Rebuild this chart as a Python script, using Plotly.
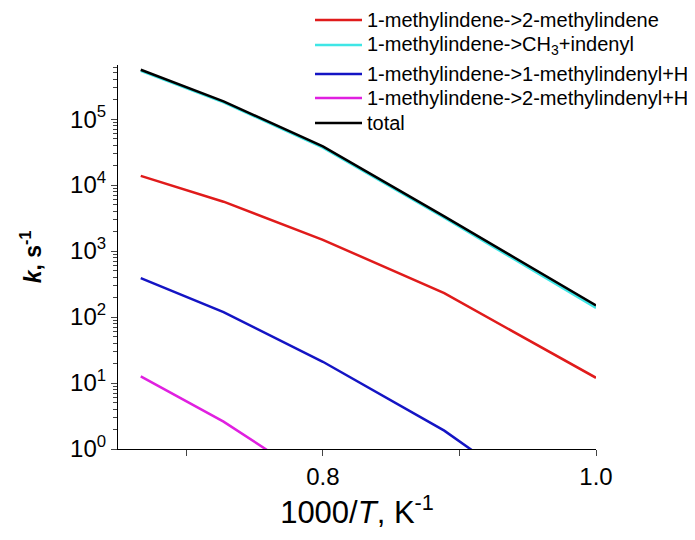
import plotly.graph_objects as go

# 1000/T values (T = 1500, 1375, 1250, 1125, 1000 K)
inv_T = [1000/1500, 1000/1375, 1000/1250, 1000/1125, 1000/1000]

series_names = [
    "1-methylindene->2-methylindene",
    "1-methylindene->CH<sub>3</sub>+indenyl",
    "1-methylindene->1-methylindenyl+H",
    "1-methylindene->2-methylindenyl+H",
    "total",
]
k_to_2methylindene = [1.38e4, 5.6e3, 1.48e3, 2.3e2, 12]
k_to_ch3_indenyl = [5.4e5, 1.8e5, 3.7e4, 3.2e3, 137]
k_to_1methylindenyl_h = [390, 119, 21, 1.9, 0.045]
k_to_2methylindenyl_h = [12.6, 2.6, 0.27, 0.012, 8e-5]
k_total = [5.6e5, 1.86e5, 3.85e4, 3.35e3, 150]

colors = ["#e01b1b", "#3fe6e6", "#1414c4", "#e020e0", "#000000"]

y_major = [1, 10, 100, 1000, 1e4, 1e5]
y_major_text = ["10<sup>0</sup>", "10<sup>1</sup>", "10<sup>2</sup>",
                "10<sup>3</sup>", "10<sup>4</sup>", "10<sup>5</sup>"]
y_minor = [m * 10**e for e in range(0, 6) for m in range(2, 10) if m * 10**e < 6.6e5]
x_major = [0.8, 1.0]
x_major_text = ["0.8", "1.0"]
x_minor = [0.7, 0.9]

W, H = 695, 540
OFF = 8  # page body offset of the figure inside the window
# plot area in window pixels: x 118..596, y 65..449
M = dict(l=118 - OFF, r=W - (596 - OFF), t=65 - OFF, b=H - (449 - OFF))

fig = go.Figure()
all_series = [k_to_2methylindene, k_to_ch3_indenyl, k_to_1methylindenyl_h,
              k_to_2methylindenyl_h, k_total]
for name, vals, col in zip(series_names, all_series, colors):
    fig.add_trace(go.Scatter(x=inv_T, y=vals, mode="lines", name=name,
                             line=dict(color=col, width=2.5)))

font = "Liberation Sans, Arial, sans-serif"

# manual legend (window pixel layout converted to paper coordinates)
pw = W - M["l"] - M["r"]
ph = H - M["t"] - M["b"]
def px(xw):
    return (xw - OFF - M["l"]) / pw
def py(yw):
    return (H - M["b"] - (yw - OFF)) / ph

legend_rows_y = [20, 45, 74, 98, 123]
shapes = []
annotations = []
for name, col, yr in zip(series_names, colors, legend_rows_y):
    shapes.append(dict(type="line", xref="paper", yref="paper",
                       x0=px(315), x1=px(362), y0=py(yr), y1=py(yr),
                       line=dict(color=col, width=2.5)))
    annotations.append(dict(text=name, xref="paper", yref="paper",
                            x=px(365), y=py(yr), xanchor="left", yanchor="middle",
                            showarrow=False, font=dict(size=20, family=font)))

fig.update_layout(
    width=W, height=H,
    margin=M,
    plot_bgcolor="white", paper_bgcolor="white",
    font=dict(family=font, color="black"),
    showlegend=False,
    shapes=shapes,
    annotations=annotations,
    xaxis=dict(range=[0.65, 1.0], tickmode="array", tickvals=x_major,
               ticktext=x_major_text, ticks="outside", ticklen=6, tickwidth=1,
               showline=True, linecolor="black", linewidth=1.2, showgrid=False,
               zeroline=False, tickfont=dict(size=24), automargin=False,
               minor=dict(tickvals=x_minor, ticks="outside", ticklen=6,
                          tickwidth=1, showgrid=False),
               title=dict(text="1000/<i>T</i>, K<sup>-1</sup>",
                          font=dict(size=31), standoff=12)),
    yaxis=dict(type="log", range=[0, 5.82], tickmode="array", tickvals=y_major,
               ticktext=y_major_text, ticks="outside", ticklen=6, tickwidth=1,
               showline=True, linecolor="black", linewidth=1.2, showgrid=False,
               zeroline=False, tickfont=dict(size=24), automargin=False,
               minor=dict(tickvals=y_minor, ticks="outside", ticklen=4,
                          tickwidth=1, showgrid=False),
               title=dict(text="<b><i>k</i>, s<sup>-1</sup></b>",
                          font=dict(size=23), standoff=22)),
)

fig.write_html("out.html")
